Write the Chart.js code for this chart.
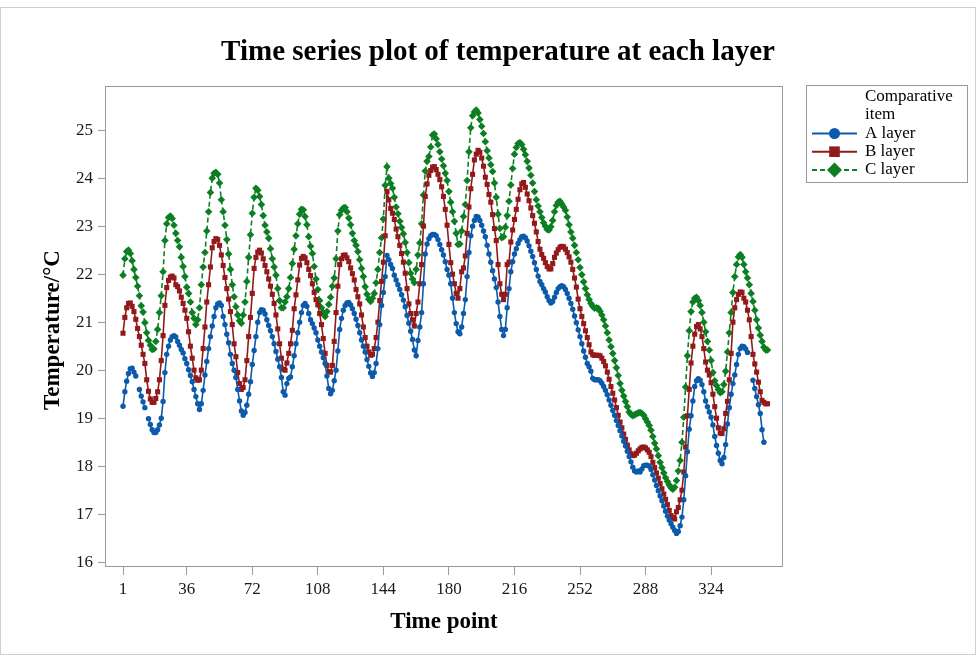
<!DOCTYPE html>
<html>
<head>
<meta charset="utf-8">
<script src="https://cdn.jsdelivr.net/npm/chart.js@4.4.1/dist/chart.umd.min.js"></script>
<style>
  body { margin: 0; background: #fff; }
  #app { width: 976px; height: 655px; }
</style>
</head>
<body>
<div id="app"><canvas id="chart" width="976" height="655"></canvas></div>
<script>
// temperature readings, one per time point
const layerA = [
  19.25, 19.55, 19.77, 19.93, 20.03, 20.04, 19.96, 19.88, null, 19.6,
  19.46, 19.34, 19.22, null, 18.99, 18.87, 18.76, 18.7, 18.7, 18.76,
  18.86, 19.0, 19.35, 19.95, 20.33, 20.5, 20.63, 20.7, 20.72, 20.69,
  20.6, 20.52, 20.43, 20.36, 20.24, 20.14, 20.01, 19.89, 19.76, 19.6,
  19.45, 19.3, 19.18, 19.3, 19.58, 19.9, 20.18, 20.45, 20.7, 20.92,
  21.12, 21.3, 21.38, 21.4, 21.35, 21.12, 20.95, 20.75, 20.57, 20.33,
  20.14, 20.0, 19.85, 19.6, 19.36, 19.15, 19.06, 19.12, 19.27, 19.5,
  19.76, 20.12, 20.41, 20.7, 21.0, 21.2, 21.26, 21.25, 21.17, 21.05,
  20.93, 20.82, 20.7, 20.55, 20.39, 20.23, 20.07, 19.85, 19.55, 19.48,
  19.72, 19.83, 19.86, 20.07, 20.3, 20.55, 20.78, 21.0, 21.2, 21.35,
  21.39, 21.33, 21.18, 21.05, 20.97, 20.88, 20.78, 20.63, 20.5, 20.38,
  20.26, 20.14, 19.88, 19.62, 19.51, 19.58, 19.78, 20.0, 20.4, 20.85,
  21.08, 21.25, 21.35, 21.4, 21.41, 21.36, 21.28, 21.18, 21.06, 20.93,
  20.78, 20.63, 20.5, 20.38, 20.22, 20.08, 19.94, 19.87, 19.95, 20.14,
  20.45, 20.95, 21.35, 21.62, 21.95, 22.39, 22.3, 22.2, 22.12, 21.98,
  21.88, 21.78, 21.68, 21.57, 21.46, 21.32, 21.14, 20.98, 20.81, 20.64,
  20.42, 20.3, 20.62, 20.9, 21.2, 21.8, 22.42, 22.63, 22.74, 22.8,
  22.83, 22.83, 22.8, 22.72, 22.62, 22.51, 22.4, 22.26, 22.1, 21.98,
  21.8, 21.5, 21.2, 20.97, 20.8, 20.76, 20.9, 21.18, 21.47, 21.95,
  22.45, 22.8, 23.0, 23.12, 23.2, 23.19, 23.12, 23.02, 22.9, 22.78,
  22.6, 22.42, 22.25, 22.07, 21.9, 21.72, 21.42, 21.12, 20.85, 20.72,
  20.85, 21.3, 21.7, 22.05, 22.26, 22.42, 22.53, 22.64, 22.72, 22.78,
  22.79, 22.76, 22.69, 22.59, 22.48, 22.37, 22.24, 22.1, 21.96, 21.85,
  21.78, 21.7, 21.63, 21.53, 21.45, 21.4, 21.43, 21.52, 21.62, 21.7,
  21.74, 21.76, 21.74, 21.68, 21.6, 21.5, 21.39, 21.27, 21.13, 20.99,
  20.84, 20.7, 20.55, 20.4, 20.27, 20.14, 20.07, 19.98, 19.83, 19.8,
  19.8, 19.8, 19.78, 19.73, 19.66, 19.58, 19.49, 19.38, 19.27, 19.16,
  19.06, 18.95, 18.85, 18.74, 18.63, 18.52, 18.42, 18.31, 18.2, 18.09,
  17.98, 17.9, 17.88, 17.9, 17.88, 17.94, 18.01, 18.02, 18.02, 18.0,
  17.93, 17.82, 17.71, 17.6, 17.49, 17.38, 17.28, 17.17, 17.06, 16.96,
  16.88, 16.8, 16.73, 16.66, 16.6, 16.64, 16.76, 16.94, 17.3, 17.8,
  18.3, 18.77, 19.05, 19.36, 19.66, 19.78, 19.82, 19.79, 19.7, 19.55,
  19.36, 19.24, 19.13, 19.02, 18.86, 18.62, 18.43, 18.27, 18.12, 18.05,
  18.18, 18.45, 18.88, 19.22, 19.5, 19.72, 19.9, 20.12, 20.33, 20.45,
  20.5, 20.49, 20.44, 20.37, null, null, 19.79, 19.62, 19.45, 19.28,
  19.1, 18.76, 18.5, null, null
]

const layerB = [
  20.77, 21.1, 21.3, 21.39, 21.4, 21.33, 21.22, 21.06, 20.87, 20.7,
  20.52, 20.33, 20.14, 19.8, 19.56, 19.4, 19.33, 19.33, 19.41, 19.55,
  19.8, 20.2, 20.72, 21.35, 21.72, 21.87, 21.94, 21.96, 21.92, 21.78,
  21.74, 21.65, 21.52, 21.39, 21.25, 21.08, 20.8, 20.5, 20.25, 20.0,
  19.84, 19.79, 19.8, 20.0, 20.45, 20.9, 21.42, 21.78, 22.15, 22.55,
  22.68, 22.74, 22.72, 22.6, 22.4, 22.18, 21.93, 21.7, 21.48, 21.22,
  20.95, 20.55, 20.28, 19.95, 19.72, 19.6, 19.64, 19.8, 20.2, 20.7,
  21.1, 21.6, 22.12, 22.35, 22.46, 22.5, 22.44, 22.32, 22.18, 22.05,
  21.9, 21.75, 21.58, 21.39, 21.15, 20.86, 20.55, 20.25, 20.02, 20.0,
  20.15, 20.35, 20.55, 20.83, 21.28, 21.57, 21.88, 22.19, 22.33, 22.37,
  22.34, 22.24, 22.1, 21.97, 21.8, 21.62, 21.47, 21.36, 21.18, 20.95,
  20.66, 20.35, 20.1, 19.97, 19.96, 20.1, 20.6, 21.2, 21.75, 22.2,
  22.32, 22.39, 22.4, 22.34, 22.26, 22.13, 22.01, 21.88, 21.68, 21.53,
  21.38, 21.15, 20.9, 20.68, 20.5, 20.38, 20.31, 20.33, 20.45, 20.68,
  21.0, 21.45, 21.85, 22.25, 22.8, 23.72, 23.55, 23.37, 23.27, 23.14,
  22.94, 22.78, 22.6, 22.43, 22.25, 22.02, 21.7, 21.38, 21.18, 21.05,
  20.92, 21.18, 21.42, 21.8, 22.2, 23.0, 23.62, 23.88, 24.06, 24.16,
  24.23, 24.24, 24.18, 24.08, 23.97, 23.82, 23.62, 23.35, 23.02, 22.62,
  22.24, 22.0, 21.8, 21.6, 21.5, 21.7, 22.05, 22.13, 22.38, 22.85,
  23.4, 23.78, 24.08, 24.38, 24.5, 24.58, 24.54, 24.42, 24.25, 24.02,
  23.87, 23.66, 23.5, 23.24, 22.95, 22.7, 22.2, 21.8, 21.58, 21.47,
  21.58, 22.2, 22.25, 22.67, 22.92, 23.14, 23.35, 23.56, 23.76, 23.88,
  23.91, 23.81, 23.67, 23.53, 23.38, 23.22, 23.06, 22.88, 22.68, 22.52,
  22.41, 22.33, 22.24, 22.16, 22.11, 22.11, 22.22, 22.35, 22.44, 22.51,
  22.56, 22.58, 22.57, 22.52, 22.45, 22.36, 22.25, 22.1, 21.92, 21.73,
  21.48, 21.28, 21.12, 20.97, 20.82, 20.68, 20.53, 20.38, 20.32, 20.31,
  20.31, 20.31, 20.3, 20.25, 20.18, 20.09, 19.96, 19.81, 19.66, 19.52,
  19.38, 19.22, 19.06, 18.92, 18.8, 18.67, 18.56, 18.44, 18.34, 18.26,
  18.22, 18.23, 18.27, 18.32, 18.36, 18.39, 18.4, 18.38, 18.34, 18.29,
  18.2, 18.08, 17.97, 17.86, 17.75, 17.64, 17.53, 17.42, 17.31, 17.2,
  17.08, 16.97, 16.93, 16.9, 17.05, 17.14, 17.3, 17.5, 17.88, 18.4,
  19.05, 19.6, 20.15, 20.5, 20.75, 20.91, 20.95, 20.86, 20.7, 20.45,
  20.17, 20.0, 19.9, 19.74, 19.5, 19.24, 19.0, 18.8, 18.69, 18.68,
  18.78, 19.1, 19.35, 19.8, 20.35, 21.0, 21.3, 21.47, 21.58, 21.63,
  21.62, 21.5, 21.42, 21.25, 21.05, 20.7, 20.33, 20.13, 19.96, 19.75,
  19.55, 19.37, 19.33, 19.3, 19.3
]

const layerC = [
  21.98, 22.32, 22.47, 22.5, 22.43, 22.28, 22.1, 21.93, 21.75, 21.55,
  21.34, 21.21, 20.99, 20.78, 20.62, 20.52, 20.43, 20.44, 20.6, 20.85,
  21.2, 21.55, 22.05, 22.7, 23.05, 23.18, 23.21, 23.16, 23.02, 22.85,
  22.7, 22.57, 22.35, 22.16, 21.95, 21.73, 21.6, 21.42, 21.2, 21.08,
  20.95, 21.05, 21.3, 21.78, 22.15, 22.45, 22.9, 23.3, 23.7, 24.0,
  24.1, 24.12, 24.08, 23.9, 23.55, 23.3, 23.02, 22.72, 22.42, 22.1,
  21.78, 21.53, 21.32, 21.15, 21.03, 20.98, 21.15, 21.42, 21.85, 22.35,
  22.82, 23.27, 23.6, 23.79, 23.75, 23.62, 23.45, 23.22, 23.02, 22.88,
  22.75, 22.53, 22.32, 22.15, 21.98, 21.7, 21.45, 21.3, 21.3, 21.42,
  21.53, 21.7, 21.93, 22.22, 22.52, 22.8, 23.05, 23.25, 23.35, 23.34,
  23.2, 23.03, 22.78, 22.58, 22.43, 22.16, 21.9, 21.68, 21.45, 21.3,
  21.2, 21.12, 21.22, 21.37, 21.52, 21.75, 21.92, 22.32, 22.9, 23.24,
  23.33, 23.38, 23.39, 23.3, 23.17, 23.03, 22.85, 22.7, 22.6, 22.47,
  22.3, 22.12, 21.95, 21.74, 21.58, 21.48, 21.43, 21.5, 21.6, 21.82,
  22.1, 22.45, 22.76, 23.15, 23.85, 24.24, 24.0, 23.89, 23.79, 23.6,
  23.4, 23.26, 23.1, 22.97, 22.84, 22.66, 22.45, 22.24, 22.02, 21.9,
  21.82, 22.1, 22.4, 22.65, 23.05, 23.65, 24.15, 24.35, 24.45, 24.65,
  24.9, 24.92, 24.82, 24.7, 24.55, 24.4, 24.26, 24.1, 23.95, 23.72,
  23.5, 23.3, 23.1, 22.85, 22.62, 22.63, 22.9, 23.2, 23.45, 23.95,
  24.55, 25.05, 25.3, 25.38, 25.42, 25.36, 25.22, 25.08, 24.93, 24.76,
  24.57, 24.42, 24.28, 24.14, 23.9, 23.6, 23.25, 22.95, 22.76, 22.78,
  22.98, 23.22, 23.52, 23.86, 24.2, 24.5, 24.64, 24.72, 24.74, 24.7,
  24.6, 24.49, 24.35, 24.21, 24.06, 23.9, 23.72, 23.55, 23.42, 23.3,
  23.18, 23.07, 23.0, 22.93, 22.92, 22.99, 23.12, 23.3, 23.43, 23.5,
  23.52, 23.46, 23.4, 23.33, 23.19, 23.03, 22.88, 22.75, 22.6, 22.45,
  22.3, 22.14, 21.99, 21.84, 21.7, 21.57, 21.47, 21.39, 21.33, 21.29,
  21.3, 21.29, 21.23, 21.15, 21.05, 20.92, 20.78, 20.63, 20.49, 20.35,
  20.2, 20.05, 19.89, 19.72, 19.58, 19.46, 19.35, 19.24, 19.13, 19.08,
  19.05, 19.07, 19.09, 19.11, 19.12, 19.1, 19.06, 18.99, 18.92, 18.85,
  18.75, 18.62, 18.48, 18.36, 18.22, 18.08, 17.97, 17.86, 17.76, 17.68,
  17.61, 17.55, 17.52, 17.56, 17.7, 17.9, 18.12, 18.5, 19.02, 19.65,
  20.3, 20.82, 21.22, 21.42, 21.5, 21.52, 21.45, 21.35, 21.2, 21.0,
  20.8, 20.6, 20.42, 20.2, 19.95, 19.78, 19.68, 19.6, 19.53, 19.55,
  19.7, 19.98, 20.38, 20.78, 21.2, 21.62, 21.95, 22.2, 22.36, 22.41,
  22.35, 22.2, 22.05, 21.92, 21.78, 21.6, 21.43, 21.25, 21.05, 20.88,
  20.73, 20.6, 20.48, 20.42, 20.42
]

const timePoints = layerB.map((v, i) => i + 1)
const xTicks = [1, 36, 72, 108, 144, 180, 216, 252, 288, 324]
const yTicks = [16, 17, 18, 19, 20, 21, 22, 23, 24, 25]

const serif = '"Liberation Serif", "Times New Roman", serif'
const axisGrey = '#9a9a9a'

const blue = '#0b5aab'
const red = '#931a1a'
const green = '#0c7f22'

Chart.defaults.font.family = serif
Chart.defaults.color = '#1a1a1a'

// title, frame, legend box and axis titles, drawn on top
const decor = {
  id: 'decor',
  afterDraw(chart) {
    const ctx = chart.ctx
    const a = chart.chartArea
    ctx.save()

    ctx.strokeStyle = '#cfcfcf'
    ctx.lineWidth = 1
    ctx.strokeRect(0.5, 7.5, 975, 647)

    ctx.strokeStyle = axisGrey
    ctx.strokeRect(a.left + 0.5, a.top + 0.5, a.right - a.left - 1, a.bottom - a.top - 1)

    ctx.fillStyle = '#000'
    ctx.textAlign = 'center'
    ctx.textBaseline = 'middle'
    ctx.font = 'bold 29px ' + serif
    ctx.fillText('Time series plot of temperature at each layer', 498, 53)

    ctx.font = 'bold 23px ' + serif
    ctx.fillText('Time point', (a.left + a.right) / 2, 622)
    ctx.save()
    ctx.translate(53, 330)
    ctx.rotate(-Math.PI / 2)
    ctx.fillText('Temperature/\u00B0C', 0, 0)
    ctx.restore()

    // legend
    ctx.strokeStyle = axisGrey
    ctx.strokeRect(806.5, 85.5, 161, 97)
    ctx.font = '17px ' + serif
    ctx.textAlign = 'left'
    ctx.fillText('Comparative', 865, 97)
    ctx.fillText('item', 865, 115)
    chart.data.datasets.forEach((ds, k) => {
      const y = 133.5 + k * 18.2
      ctx.strokeStyle = ds.borderColor
      ctx.lineWidth = 2
      ctx.setLineDash(ds.borderDash || [])
      ctx.beginPath()
      ctx.moveTo(812, y)
      ctx.lineTo(857, y)
      ctx.stroke()
      ctx.setLineDash([])
      ctx.fillStyle = ds.borderColor
      Chart.helpers.drawPoint(ctx, {pointStyle: ds.pointStyle, radius: ds.legendRadius, borderWidth: 0, rotation: 0}, 834.5, y)
      ctx.fillStyle = '#000'
      ctx.fillText(ds.label, 865, y)
    })
    ctx.restore()
  }
}

new Chart(document.getElementById('chart'), {
  type: 'line',
  data: {
    labels: timePoints,
    datasets: [
      {
        label: 'A layer', data: layerA,
        borderColor: blue, backgroundColor: blue,
        borderWidth: 1.6, pointStyle: 'circle', pointRadius: 2.7,
        pointBorderWidth: 0, legendRadius: 5.5
      },
      {
        label: 'B layer', data: layerB,
        borderColor: red, backgroundColor: red,
        borderWidth: 1.6, pointStyle: 'rect', pointRadius: 3.6,
        pointBorderWidth: 0, legendRadius: 7.5
      },
      {
        label: 'C layer', data: layerC,
        borderColor: green, backgroundColor: green,
        borderWidth: 1.6, borderDash: [5, 3], pointStyle: 'rectRot', pointRadius: 3.8,
        pointBorderWidth: 0, legendRadius: 7.5
      }
    ]
  },
  options: {
    responsive: false,
    animation: false,
    spanGaps: false,
    layout: { padding: { left: 0, top: 86, right: 193, bottom: 0 } },
    plugins: {
      legend: { display: false },
      tooltip: { enabled: false }
    },
    scales: {
      x: {
        type: 'linear',
        min: -8.9,
        max: 363.5,
        afterFit: s => { s.height = 88 },
        afterBuildTicks: s => { s.ticks = xTicks.map(v => ({ value: v })) },
        ticks: { font: { size: 17 }, padding: 4, maxRotation: 0, color: '#1a1a1a' },
        grid: { drawOnChartArea: false, tickLength: 8, color: axisGrey },
        border: { display: false }
      },
      y: {
        min: 15.9,
        max: 25.92,
        afterFit: s => { s.width = 105 },
        afterBuildTicks: s => { s.ticks = yTicks.map(v => ({ value: v })) },
        ticks: { font: { size: 17 }, padding: 5, color: '#1a1a1a' },
        grid: { drawOnChartArea: false, tickLength: 7, color: axisGrey },
        border: { display: false }
      }
    }
  },
  plugins: [decor]
})
</script>
</body>
</html>
